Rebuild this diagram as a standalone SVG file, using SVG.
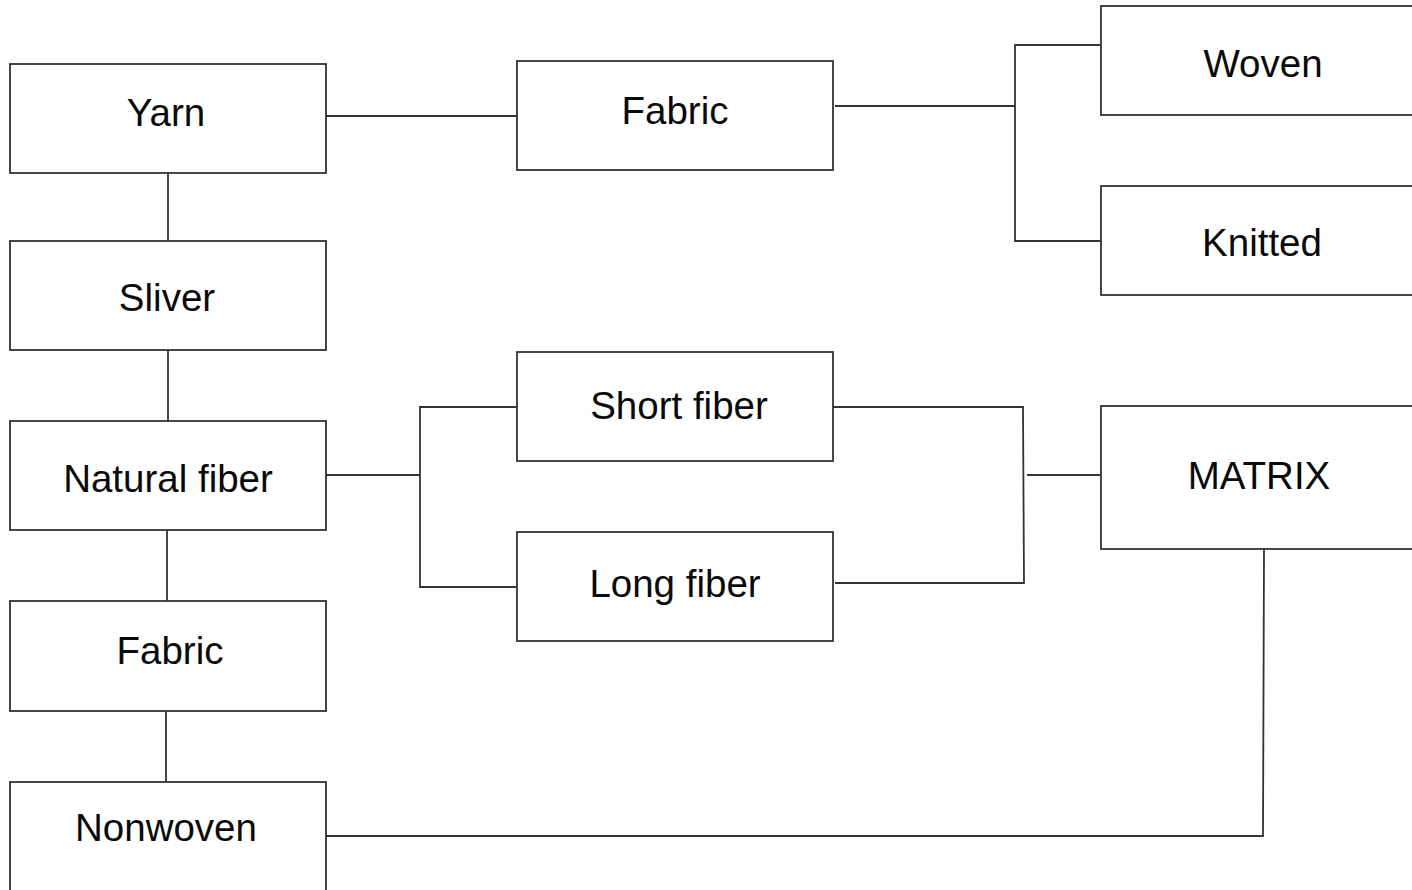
<svg xmlns="http://www.w3.org/2000/svg" width="1412" height="890" viewBox="0 0 1412 890">
  <style>
    .box { fill: #ffffff; stroke: #333333; stroke-width: 1.8; }
    .lbl { font-family: "Liberation Sans", Arial, sans-serif; font-size: 38.5px; fill: #0a0a0a; text-anchor: middle; }
    .wire { fill: none; stroke: #333333; stroke-width: 1.8; }
  </style>
  <rect width="1412" height="890" fill="#ffffff"/>

  <g id="connectors">
    <!-- Yarn to top Fabric -->
    <line class="wire" x1="326" y1="116" x2="517" y2="116"/>
    <!-- top Fabric branches to Woven / Knitted -->
    <line class="wire" x1="835" y1="106" x2="1015" y2="106"/>
    <polyline class="wire" points="1101,45 1015,45 1015,241 1101,241"/>
    <!-- left column chain -->
    <line class="wire" x1="168" y1="173" x2="168" y2="241"/>
    <line class="wire" x1="168" y1="350" x2="168" y2="421"/>
    <line class="wire" x1="167" y1="530" x2="167" y2="601"/>
    <line class="wire" x1="166" y1="711" x2="166" y2="782"/>
    <!-- Natural fiber branches to Short / Long fiber -->
    <line class="wire" x1="326" y1="475" x2="420" y2="475"/>
    <polyline class="wire" points="517,407 420,407 420,587 517,587"/>
    <!-- Short / Long fiber join toward MATRIX -->
    <polyline class="wire" points="833,407 1023,407 1024,583 835,583"/>
    <line class="wire" x1="1027" y1="475" x2="1101" y2="475"/>
    <!-- MATRIX to Nonwoven -->
    <polyline class="wire" points="1264,549 1263,836 326,836"/>
  </g>

  <g id="node-yarn">
    <rect class="box" x="10" y="64" width="316" height="109"/>
    <text class="lbl" x="166" y="126">Yarn</text>
  </g>
  <g id="node-sliver">
    <rect class="box" x="10" y="241" width="316" height="109"/>
    <text class="lbl" x="167" y="311">Sliver</text>
  </g>
  <g id="node-natural-fiber">
    <rect class="box" x="10" y="421" width="316" height="109"/>
    <text class="lbl" x="168" y="492">Natural fiber</text>
  </g>
  <g id="node-fabric-left">
    <rect class="box" x="10" y="601" width="316" height="110"/>
    <text class="lbl" x="170" y="664">Fabric</text>
  </g>
  <g id="node-nonwoven">
    <rect class="box" x="10" y="782" width="316" height="120"/>
    <text class="lbl" x="166" y="841">Nonwoven</text>
  </g>
  <g id="node-fabric-top">
    <rect class="box" x="517" y="61" width="316" height="109"/>
    <text class="lbl" x="675" y="124">Fabric</text>
  </g>
  <g id="node-short-fiber">
    <rect class="box" x="517" y="352" width="316" height="109"/>
    <text class="lbl" x="679" y="419">Short fiber</text>
  </g>
  <g id="node-long-fiber">
    <rect class="box" x="517" y="532" width="316" height="109"/>
    <text class="lbl" x="675" y="597">Long fiber</text>
  </g>
  <g id="node-woven">
    <rect class="box" x="1101" y="6" width="330" height="109"/>
    <text class="lbl" x="1263" y="77">Woven</text>
  </g>
  <g id="node-knitted">
    <rect class="box" x="1101" y="186" width="330" height="109"/>
    <text class="lbl" x="1262" y="256">Knitted</text>
  </g>
  <g id="node-matrix">
    <rect class="box" x="1101" y="406" width="330" height="143"/>
    <text class="lbl" x="1259" y="489">MATRIX</text>
  </g>
</svg>
